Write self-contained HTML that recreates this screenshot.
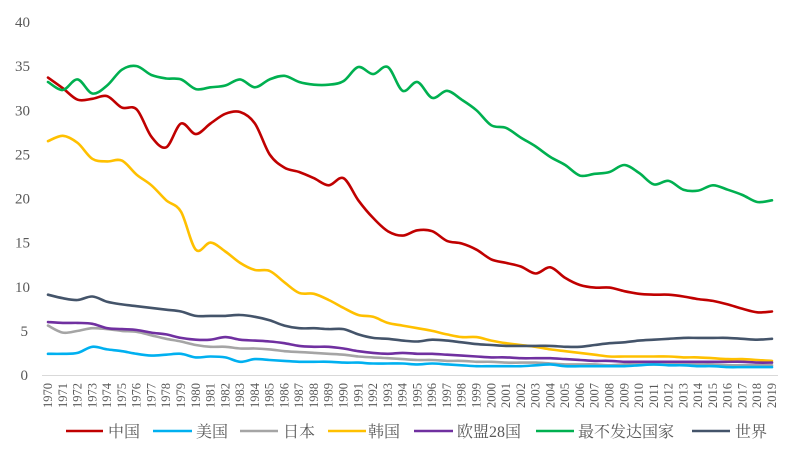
<!DOCTYPE html>
<html><head><meta charset="utf-8"><style>
html,body{margin:0;padding:0;background:#fff;}
svg{display:block;font-family:"Liberation Serif","Noto Serif CJK SC",serif;}
</style></head><body>
<svg id="c" width="800" height="454" viewBox="0 0 800 454" xmlns="http://www.w3.org/2000/svg">
<g id="yl" fill="#595959" font-size="15" text-anchor="end"></g>
<line x1="42" y1="375.5" x2="778" y2="375.5" stroke="#d9d9d9" stroke-width="1"/>
<g id="xl" fill="#595959" font-size="12.5"></g>
<g id="series" fill="none" stroke-width="2.6" stroke-linejoin="round" stroke-linecap="round"></g>
<g font-size="16" fill="#595959">
<line x1="66" y1="431" x2="103" y2="431" stroke="#c00000" stroke-width="2.6"/><text x="108" y="437">中国</text>
<line x1="153" y1="431" x2="192" y2="431" stroke="#00b0f0" stroke-width="2.6"/><text x="196" y="437">美国</text>
<line x1="240" y1="431" x2="278" y2="431" stroke="#a5a5a5" stroke-width="2.6"/><text x="283" y="437">日本</text>
<line x1="328" y1="431" x2="366" y2="431" stroke="#ffc000" stroke-width="2.6"/><text x="368" y="437">韩国</text>
<line x1="414" y1="431" x2="453" y2="431" stroke="#7030a0" stroke-width="2.6"/><text x="457" y="437">欧盟28国</text>
<line x1="536" y1="431" x2="574" y2="431" stroke="#00b050" stroke-width="2.6"/><text x="578" y="437">最不发达国家</text>
<line x1="692" y1="431" x2="730" y2="431" stroke="#44546a" stroke-width="2.6"/><text x="735" y="437">世界</text>
</g>
</svg>
<script>
var NS="http://www.w3.org/2000/svg";
function X(i){return 48+i*14.776;}
function Y(v){return 375-v*8.825;}
var yl=document.getElementById('yl');
for(var v=0;v<=40;v+=5){var t=document.createElementNS(NS,'text');t.setAttribute('x',v<10?28:30);t.setAttribute('y',Y(v)+5);t.textContent=v;yl.appendChild(t);}
var xl=document.getElementById('xl');
for(var i=0;i<50;i++){var t=document.createElementNS(NS,'text');var x=X(i)+4,y=408;t.setAttribute('transform','translate('+x+','+y+') rotate(-90)');t.textContent=1970+i;xl.appendChild(t);}
var S=[
["#a5a5a5",[5.6,4.8,5.0,5.3,5.2,5.0,4.9,4.5,4.1,3.8,3.4,3.2,3.2,3.0,3.0,2.9,2.7,2.6,2.5,2.4,2.3,2.1,2.0,1.9,1.8,1.7,1.7,1.6,1.6,1.5,1.5,1.4,1.4,1.4,1.3,1.2,1.2,1.2,1.1,1.2,1.2,1.2,1.2,1.2,1.2,1.2,1.1,1.1,1.1,1.1]],
["#00b0f0",[2.4,2.4,2.5,3.2,2.9,2.7,2.4,2.2,2.3,2.4,2.0,2.1,2.0,1.5,1.8,1.7,1.6,1.5,1.5,1.5,1.4,1.4,1.3,1.3,1.3,1.2,1.3,1.2,1.1,1.0,1.0,1.0,1.0,1.1,1.2,1.0,1.0,1.0,1.0,1.0,1.1,1.2,1.1,1.1,1.0,1.0,0.9,0.9,0.9,0.9]],
["#ffc000",[26.5,27.1,26.3,24.5,24.2,24.3,22.7,21.5,19.8,18.5,14.2,15.0,14.0,12.7,11.9,11.8,10.5,9.3,9.2,8.5,7.6,6.8,6.6,5.9,5.6,5.3,5.0,4.6,4.3,4.3,3.9,3.6,3.4,3.2,2.9,2.7,2.5,2.3,2.1,2.1,2.1,2.1,2.1,2.0,2.0,1.9,1.8,1.8,1.7,1.6]],
["#7030a0",[6.0,5.9,5.9,5.8,5.3,5.2,5.1,4.8,4.6,4.2,4.0,4.0,4.3,4.0,3.9,3.8,3.6,3.3,3.2,3.2,3.0,2.7,2.5,2.4,2.5,2.4,2.4,2.3,2.2,2.1,2.0,2.0,1.9,1.9,1.9,1.8,1.7,1.6,1.6,1.5,1.5,1.5,1.5,1.5,1.5,1.5,1.5,1.5,1.4,1.4]],
["#c00000",[33.7,32.5,31.2,31.3,31.6,30.3,30.1,27,25.8,28.5,27.3,28.5,29.6,29.8,28.5,25,23.5,23,22.3,21.5,22.3,19.8,17.8,16.3,15.8,16.4,16.3,15.2,14.9,14.2,13.1,12.7,12.3,11.5,12.2,11,10.2,9.9,9.9,9.5,9.2,9.1,9.1,8.9,8.6,8.4,8.0,7.5,7.1,7.2]],
["#00b050",[33.2,32.3,33.5,31.9,32.8,34.6,35.0,34.0,33.6,33.5,32.4,32.6,32.8,33.5,32.6,33.5,33.9,33.2,32.9,32.9,33.3,34.9,34.1,34.9,32.2,33.2,31.4,32.2,31.2,30.0,28.3,28.0,26.9,25.9,24.7,23.8,22.6,22.8,23.0,23.8,22.9,21.6,22.0,21.0,20.9,21.5,21.0,20.4,19.6,19.8]],
["#44546a",[9.1,8.7,8.5,8.9,8.3,8.0,7.8,7.6,7.4,7.2,6.7,6.7,6.7,6.8,6.6,6.2,5.6,5.3,5.3,5.2,5.2,4.6,4.2,4.1,3.9,3.8,4.0,3.9,3.7,3.5,3.4,3.3,3.3,3.3,3.3,3.2,3.2,3.4,3.6,3.7,3.9,4.0,4.1,4.2,4.2,4.2,4.2,4.1,4.0,4.1]]
];
var g=document.getElementById('series');
S.forEach(function(s){
 var p=s[1].map(function(v,i){return [X(i),Y(v)];});
 var d="M"+p[0][0]+","+p[0][1];
 for(var i=0;i<p.length-1;i++){
  var p0=p[Math.max(i-1,0)],p1=p[i],p2=p[i+1],p3=p[Math.min(i+2,p.length-1)];
  var c1=[p1[0]+(p2[0]-p0[0])/6,p1[1]+(p2[1]-p0[1])/6];
  var c2=[p2[0]-(p3[0]-p1[0])/6,p2[1]-(p3[1]-p1[1])/6];
  d+=" C"+c1[0].toFixed(1)+","+c1[1].toFixed(1)+" "+c2[0].toFixed(1)+","+c2[1].toFixed(1)+" "+p2[0].toFixed(1)+","+p2[1].toFixed(1);
 }
 var e=document.createElementNS(NS,'path');e.setAttribute('d',d);e.setAttribute('stroke',s[0]);g.appendChild(e);
});
</script>
</body></html>
